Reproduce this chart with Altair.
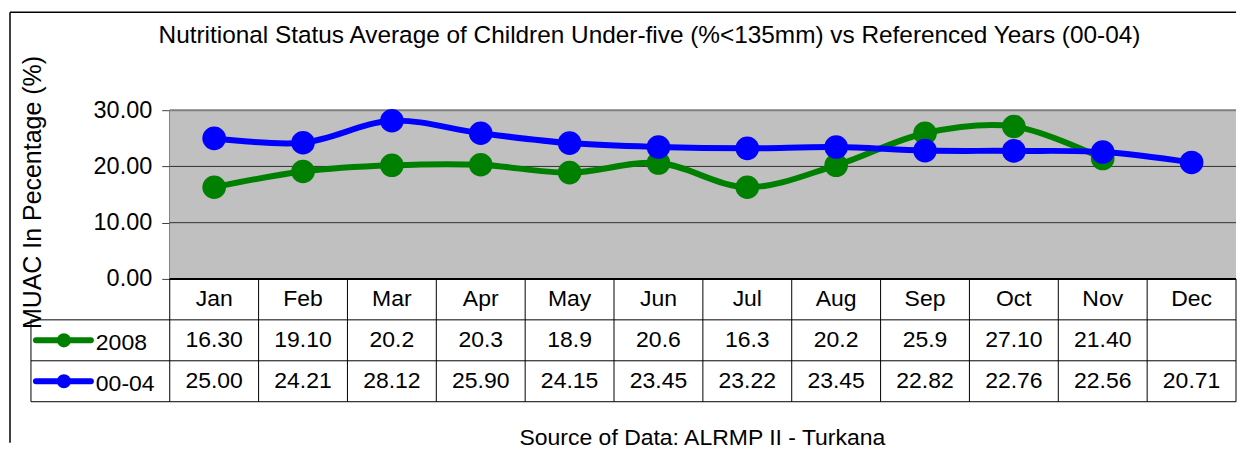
import altair as alt
import pandas as pd

# ---------------- data ----------------
months = ["Jan", "Feb", "Mar", "Apr", "May", "Jun", "Jul", "Aug", "Sep", "Oct", "Nov", "Dec"]
labels_2008 = ["16.30", "19.10", "20.2", "20.3", "18.9", "20.6", "16.3", "20.2", "25.9", "27.10", "21.40", ""]
labels_0004 = ["25.00", "24.21", "28.12", "25.90", "24.15", "23.45", "23.22", "23.45", "22.82", "22.76", "22.56", "20.71"]
series_names = ["2008", "00-04"]
series_colors = ["#008000", "#0000FF"]
y_ticks = [0, 10, 20, 30]

title_text = "Nutritional Status Average of Children Under-five (%<135mm) vs Referenced Years (00-04)"
y_title = "MUAC In Pecentage (%)"
source_text = "Source of Data: ALRMP II - Turkana"

# ---------------- layout constants ----------------
FONT = "Liberation Sans"
COL_W = 89
LEG_W = 139
N = len(months)
W = LEG_W + N * COL_W
PLOT_H = 169
ROW_H = 41
TABLE_H = 3 * ROW_H
X0 = -LEG_W / COL_W
Y_MAX = y_ticks[-1]

rows = []
for s, labs in zip(series_names, [labels_2008, labels_0004]):
    for i, (m, l) in enumerate(zip(months, labs)):
        rows.append({"series": s, "month": m, "x": i + 0.5,
                     "value": float(l) if l else None, "label": l})
df = pd.DataFrame(rows)

xs = alt.Scale(domain=[X0, N], nice=False, zero=False)
ys = alt.Scale(domain=[0, Y_MAX], nice=False, zero=False)
cs = alt.Scale(domain=series_names, range=series_colors)

top_x_axis = alt.Axis(orient="top", labels=False, ticks=False, domain=False, grid=False,
                      title=title_text, titleFont=FONT, titleFontSize=24.4, titleFontWeight="normal",
                      titleColor="black", titleX=619, titleY=-68, titleBaseline="alphabetic",
                      titleAlign="center")
y_axis = alt.Axis(values=y_ticks, format=".2f", grid=False, offset=-LEG_W,
                  domainColor="#404040", domainWidth=2, tickColor="#404040", tickSize=8,
                  tickWidth=1, labelFont=FONT, labelFontSize=23.5, labelColor="black",
                  labelPadding=10, title=y_title, titleFont=FONT, titleFontSize=25,
                  titleFontWeight="normal", titleColor="black", titleX=-129, titleY=82,
                  titleBaseline="alphabetic", titleAlign="center", titleAngle=270)

X = lambda f: alt.X(f, scale=xs, axis=top_x_axis)
Y = lambda f: alt.Y(f, scale=ys, axis=y_axis)

one = pd.DataFrame({"a": [0]})

frame_left = alt.Chart(one).mark_rule(color="black", strokeWidth=1.5).encode(
    x=alt.value(-21), y=alt.value(-98), y2=alt.value(PLOT_H + TABLE_H + 41))
frame_top = alt.Chart(one).mark_rule(color="black", strokeWidth=1.5).encode(
    x=alt.value(-21), x2=alt.value(W), y=alt.value(-98))

bg = alt.Chart(pd.DataFrame({"x": [0], "x2": [N], "y": [0], "y2": [Y_MAX]})).mark_rect(
    color="#C0C0C0").encode(x=X("x:Q"), x2="x2", y=Y("y:Q"), y2="y2")
grid = alt.Chart(pd.DataFrame({"v": y_ticks[1:-1], "x": 0, "x2": N})).mark_rule(
    color="#303030", strokeWidth=1).encode(x=X("x:Q"), x2="x2", y=Y("v:Q"))
top_border = alt.Chart(pd.DataFrame({"v": [Y_MAX], "x": 0, "x2": N})).mark_rule(
    color="#808080", strokeWidth=2).encode(x=X("x:Q"), x2="x2", y=Y("v:Q"))

series_layers = []
for s in series_names:
    base = alt.Chart(df).transform_filter(alt.datum.series == s).transform_filter(
        "isValid(datum.value)")
    enc = dict(x=X("x:Q"), y=Y("value:Q"),
               color=alt.Color("series:N", scale=cs, legend=None))
    series_layers.append(base.mark_line(interpolate="catmull-rom", strokeWidth=6).encode(**enc))
    series_layers.append(base.mark_circle(size=560, opacity=1).encode(**enc))

top = alt.layer(frame_left, frame_top, bg, grid, top_border, *series_layers).properties(
    width=W, height=PLOT_H)

# ---------------- data table ----------------
row_domain = ["header"] + series_names
trows = [{"row": "header", "x": i + 0.5, "label": m} for i, m in enumerate(months)]
trows += [{"row": r["series"], "x": r["x"], "label": r["label"]} for r in rows]
tdf = pd.DataFrame(trows)

src_axis = alt.Axis(orient="bottom", labels=False, ticks=False, domain=False, grid=False,
                    title=source_text, titleFont=FONT, titleFontSize=23, titleFontWeight="normal",
                    titleColor="black", titleX=672, titleY=43, titleBaseline="alphabetic",
                    titleAlign="center")
rs = alt.Scale(domain=row_domain, paddingInner=0, paddingOuter=0)
TX = lambda f: alt.X(f, scale=xs, axis=src_axis)
TY = lambda f, **k: alt.Y(f, scale=rs, axis=None, **k)

cell_text = alt.Chart(tdf).mark_text(font=FONT, fontSize=23, baseline="middle",
                                     color="black").encode(
    x=TX("x:Q"), y=TY("row:N"), text="label:N")

vlines = alt.Chart(pd.DataFrame({"b": list(range(N + 1))})).mark_rule(
    color="black", strokeWidth=1).encode(x=TX("b:Q"))
head_top = alt.Chart(pd.DataFrame({"x": [0], "x2": [N]})).mark_rule(
    color="black", strokeWidth=2).encode(x=TX("x:Q"), x2="x2", y=alt.value(0))
hlines = alt.Chart(pd.DataFrame({"row": row_domain})).mark_rule(
    color="black", strokeWidth=1).encode(y=TY("row:N", bandPosition=1))
leg_left = alt.Chart(one).mark_rule(color="black", strokeWidth=1).encode(
    x=alt.value(0), y=alt.value(ROW_H), y2=alt.value(TABLE_H))

sdf = pd.DataFrame({"row": series_names, "series": series_names})
leg_line = alt.Chart(sdf).mark_rule(strokeWidth=6, strokeCap="round").encode(
    x=alt.value(5), x2=alt.value(60), y=TY("row:N"),
    color=alt.Color("series:N", scale=cs, legend=None))
leg_dot = alt.Chart(sdf).mark_circle(size=200, opacity=1).encode(
    x=alt.value(33), y=TY("row:N"), color=alt.Color("series:N", scale=cs, legend=None))
leg_text = alt.Chart(sdf).mark_text(font=FONT, fontSize=23, baseline="middle", align="left",
                                    color="black", dy=3).encode(
    x=alt.value(65), y=TY("row:N"), text="series:N")

table = alt.layer(vlines, hlines, head_top, leg_left, cell_text, leg_line, leg_dot,
                  leg_text).properties(width=W, height=TABLE_H)

chart = alt.vconcat(top, table, spacing=0, bounds="flush").properties(
    padding={"left": 0, "top": 2, "right": 0, "bottom": 0}
).configure_view(stroke="transparent")

chart.save("out.html", embed_options={"renderer": "svg", "actions": False})
